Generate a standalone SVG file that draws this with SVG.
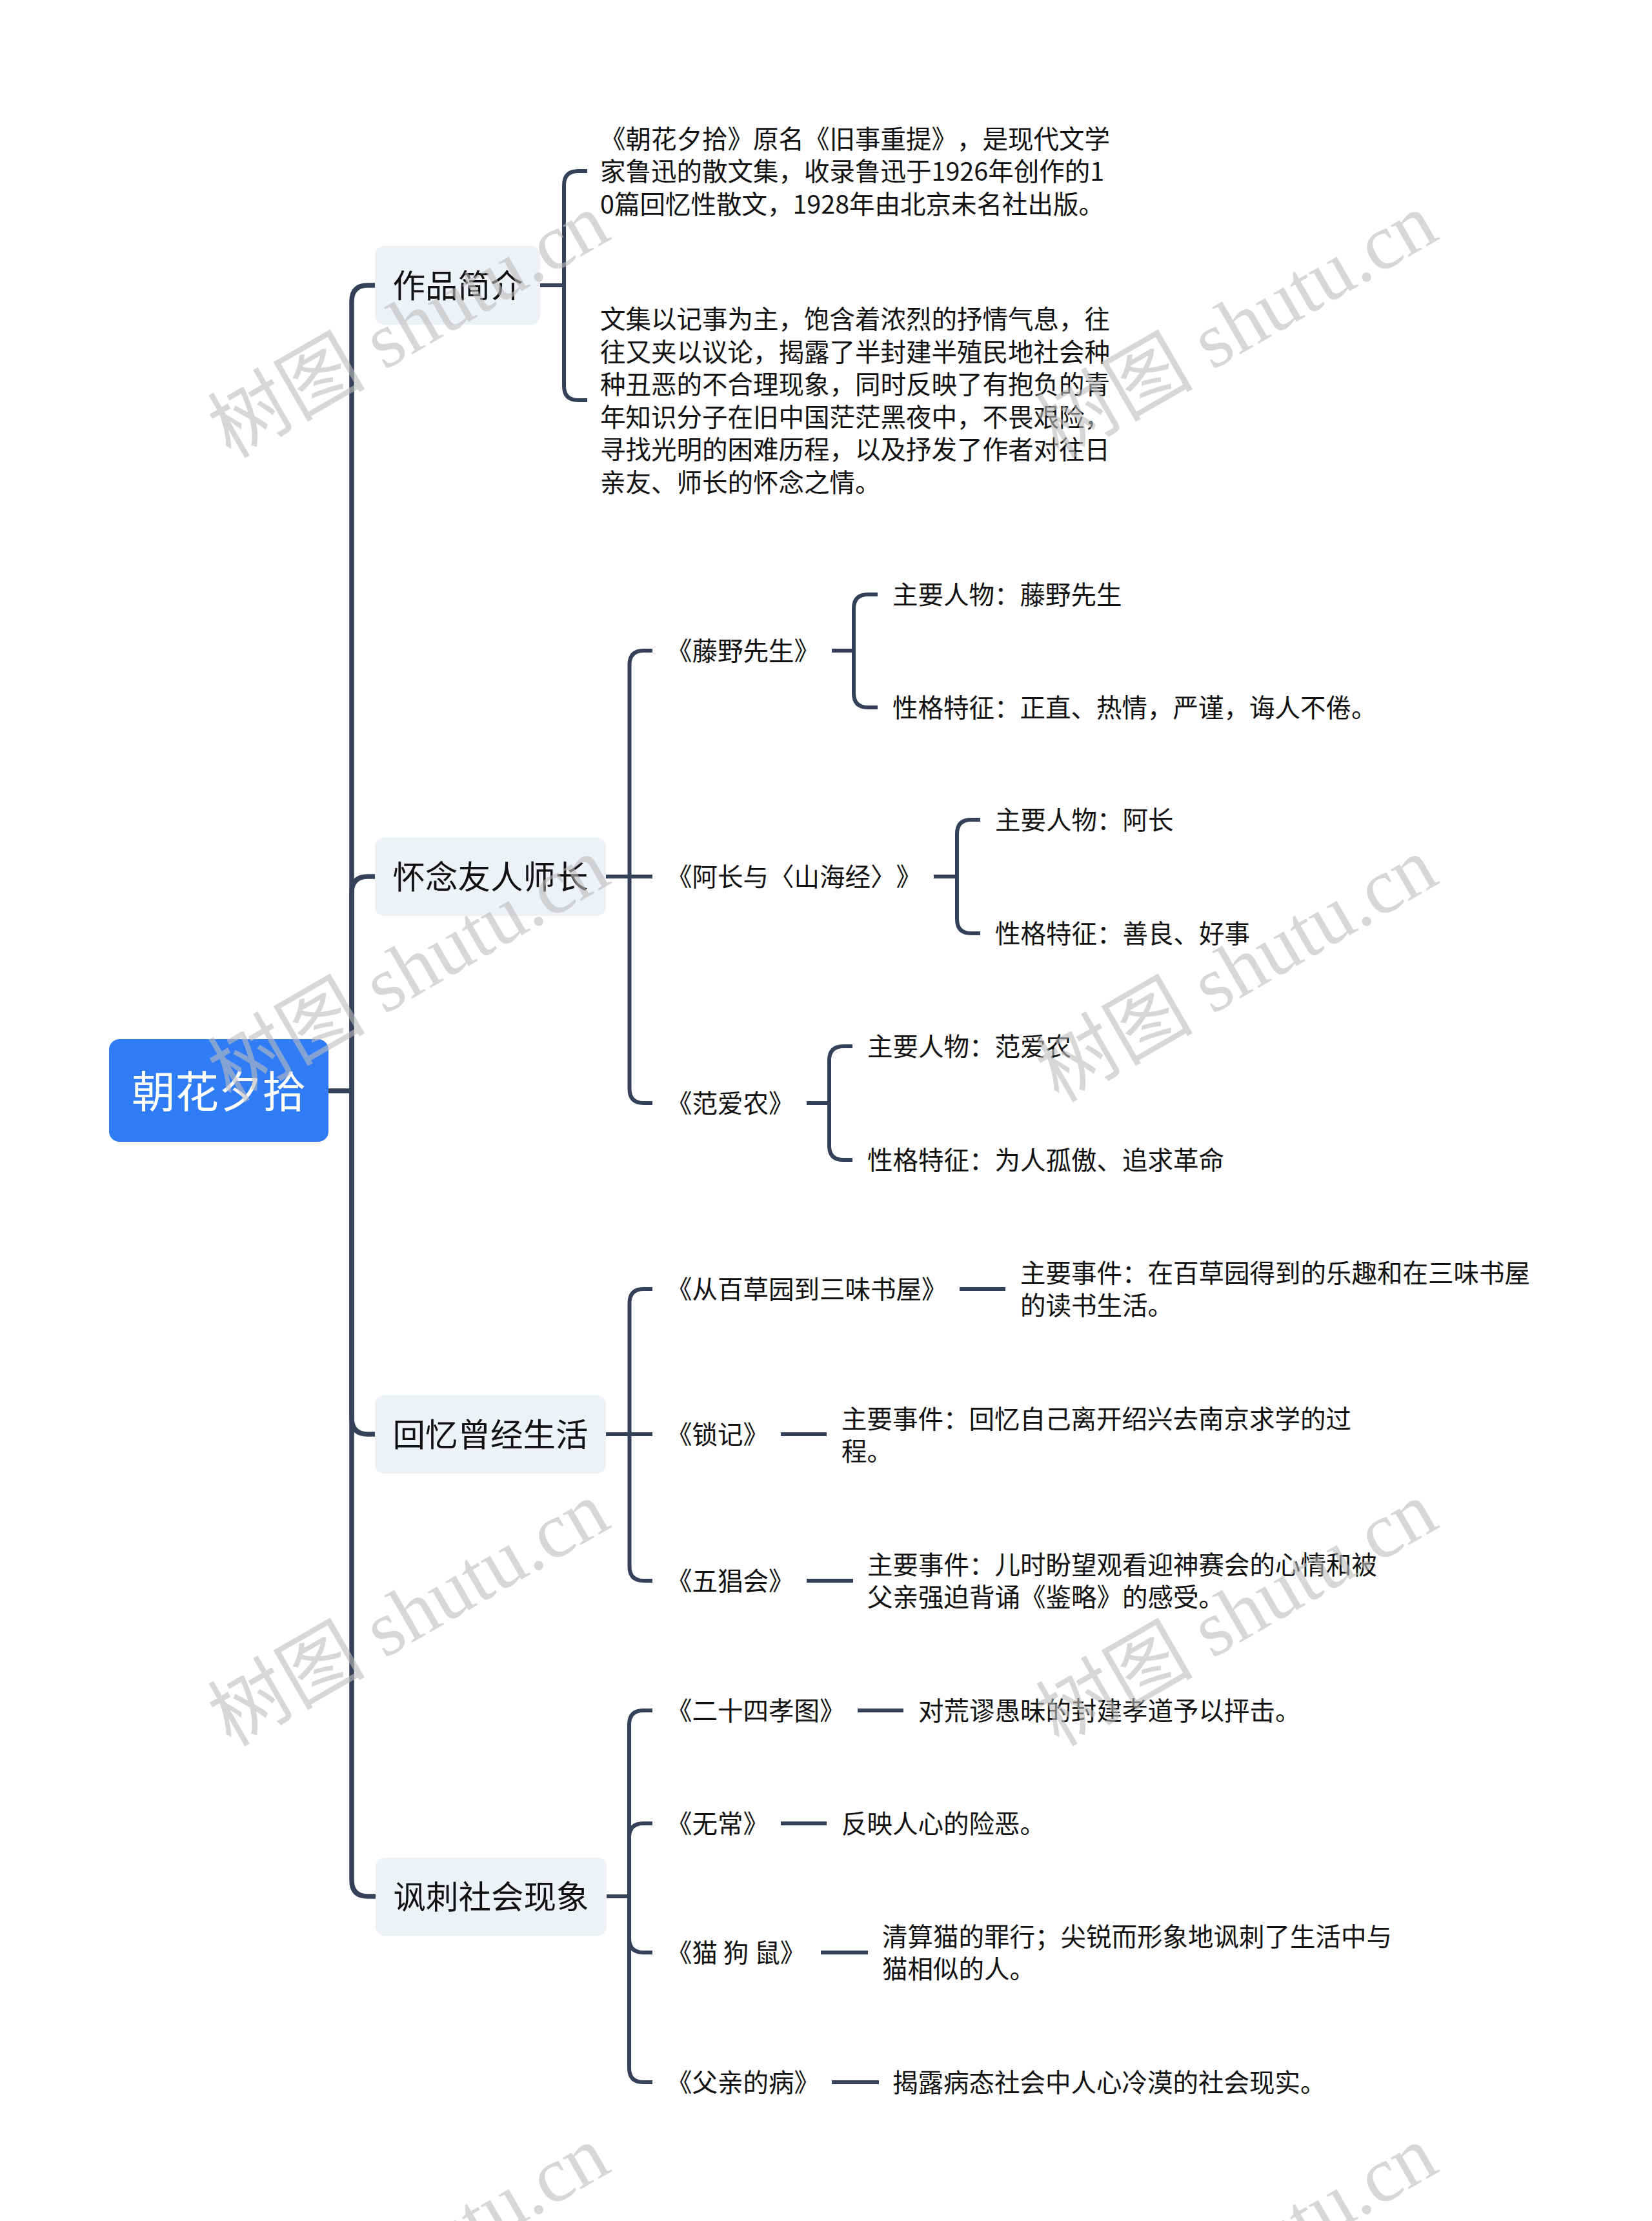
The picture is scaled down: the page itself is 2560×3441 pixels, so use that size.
<svg xmlns="http://www.w3.org/2000/svg" width="2560" height="3441" viewBox="0 0 2560 3441">
<style>
.bg{fill:#ffffff}
.ln{fill:none;stroke:#344259;stroke-width:6;stroke-linecap:butt;stroke-linejoin:round}
.trunk{fill:none;stroke:#344259;stroke-width:7.5;stroke-linecap:butt;stroke-linejoin:round}
.root{fill:#2f7cf6}
.l1{fill:#eef1f5}
.t{font-family:"Noto Sans CJK SC","Noto Sans",sans-serif;fill:#111111;text-spacing-trim:space-all;font-feature-settings:"halt" 0,"chws" 0}
.s{font-size:39.5px}
.m{font-size:50.5px}
.r{font-size:67.5px;fill:#ffffff}
.wm{font-family:"Liberation Serif","Noto Sans CJK SC",serif;font-size:122px;fill:#bdbdbd;opacity:0.6}
</style>
<rect class="bg" x="0" y="0" width="2560" height="3441"/>

<g id="connectors">
  <path class="trunk" d="M509,1690 H545"/>
  <path class="trunk" d="M545,1690 V467 Q545,442 570,442 H583"/>
  <path class="trunk" d="M545,1690 V1383 Q545,1358 570,1358 H583"/>
  <path class="trunk" d="M545,1690 V2197 Q545,2222 570,2222 H583"/>
  <path class="trunk" d="M545,1690 V2913 Q545,2938 570,2938 H583"/>
  <path class="ln" d="M837,442 H874"/>
  <path class="ln" d="M874,442 V287 Q874,265 896,265 H910"/>
  <path class="ln" d="M874,442 V598 Q874,620 896,620 H910"/>
  <path class="ln" d="M939,1358 H1011"/>
  <path class="ln" d="M975.5,1358 V1030 Q975.5,1008 997.5,1008 H1011"/>
  <path class="ln" d="M975.5,1358 V1687 Q975.5,1709 997.5,1709 H1011"/>
  <path class="ln" d="M1289,1008 H1323"/>
  <path class="ln" d="M1323,1008 V943 Q1323,921 1345,921 H1360"/>
  <path class="ln" d="M1323,1008 V1074 Q1323,1096 1345,1096 H1360"/>
  <path class="ln" d="M1447,1358 H1483"/>
  <path class="ln" d="M1483,1358 V1292 Q1483,1270 1505,1270 H1519"/>
  <path class="ln" d="M1483,1358 V1424 Q1483,1446 1505,1446 H1519"/>
  <path class="ln" d="M1250,1709 H1285"/>
  <path class="ln" d="M1285,1709 V1643 Q1285,1621 1307,1621 H1321"/>
  <path class="ln" d="M1285,1709 V1775 Q1285,1797 1307,1797 H1321"/>
  <path class="ln" d="M939,2222 H1011"/>
  <path class="ln" d="M975.5,2222 V2019 Q975.5,1997 997.5,1997 H1011"/>
  <path class="ln" d="M975.5,2222 V2427 Q975.5,2449 997.5,2449 H1011"/>
  <path class="ln" d="M1487,1997 H1558"/>
  <path class="ln" d="M1210,2222 H1281"/>
  <path class="ln" d="M1250,2449 H1322"/>
  <path class="ln" d="M940,2938 H975"/>
  <path class="ln" d="M975,2938 V2672 Q975,2650 997,2650 H1011"/>
  <path class="ln" d="M975,2938 V2847 Q975,2825 997,2825 H1011"/>
  <path class="ln" d="M975,2938 V3003 Q975,3025 997,3025 H1011"/>
  <path class="ln" d="M975,2938 V3204 Q975,3226 997,3226 H1011"/>
  <path class="ln" d="M1329,2650 H1400"/>
  <path class="ln" d="M1210,2825 H1281"/>
  <path class="ln" d="M1272,3025 H1345"/>
  <path class="ln" d="M1289,3226 H1362"/>
</g>

<g id="root">
  <rect class="root" x="169" y="1610" width="340" height="159" rx="16"/>
  <text class="t r" x="339" y="1715.5" text-anchor="middle">朝花夕拾</text>
</g>

<g id="n-intro">
  <rect class="l1" x="581" y="381" width="256" height="122" rx="14"/>
  <text class="t m" x="608.5" y="461">作品简介</text>
</g>
<g id="n-intro-1">
  <text class="t s" x="930" y="229.5">《朝花夕拾》原名《旧事重提》，是现代文学</text>
  <text class="t s" x="930" y="280">家鲁迅的散文集，收录鲁迅于1926年创作的1</text>
  <text class="t s" x="930" y="330.5">0篇回忆性散文，1928年由北京未名社出版。</text>
</g>
<g id="n-intro-2">
  <text class="t s" x="930" y="509">文集以记事为主，饱含着浓烈的抒情气息，往</text>
  <text class="t s" x="930" y="559.5">往又夹以议论，揭露了半封建半殖民地社会种</text>
  <text class="t s" x="930" y="610">种丑恶的不合理现象，同时反映了有抱负的青</text>
  <text class="t s" x="930" y="660.5">年知识分子在旧中国茫茫黑夜中，不畏艰险，</text>
  <text class="t s" x="930" y="711">寻找光明的困难历程，以及抒发了作者对往日</text>
  <text class="t s" x="930" y="761.5">亲友、师长的怀念之情。</text>
</g>

<g id="n-miss">
  <rect class="l1" x="581" y="1298" width="358" height="121" rx="14"/>
  <text class="t m" x="608.5" y="1377">怀念友人师长</text>
</g>
<g id="n-teng"><text class="t s" x="1033" y="1023">《藤野先生》</text></g>
<g id="n-teng-1"><text class="t s" x="1383" y="936">主要人物：藤野先生</text></g>
<g id="n-teng-2"><text class="t s" x="1383" y="1111">性格特征：正直、热情，严谨，诲人不倦。</text></g>
<g id="n-achang"><text class="t s" x="1033" y="1373">《阿长与〈山海经〉》</text></g>
<g id="n-achang-1"><text class="t s" x="1542" y="1285">主要人物：阿长</text></g>
<g id="n-achang-2"><text class="t s" x="1542" y="1461">性格特征：善良、好事</text></g>
<g id="n-fan"><text class="t s" x="1033" y="1724">《范爱农》</text></g>
<g id="n-fan-1"><text class="t s" x="1344" y="1636">主要人物：范爱农</text></g>
<g id="n-fan-2"><text class="t s" x="1344" y="1812">性格特征：为人孤傲、追求革命</text></g>

<g id="n-memory">
  <rect class="l1" x="581" y="2162" width="358" height="121" rx="14"/>
  <text class="t m" x="608.5" y="2241">回忆曾经生活</text>
</g>
<g id="n-baicao"><text class="t s" x="1033" y="2012">《从百草园到三味书屋》</text></g>
<g id="n-baicao-1">
  <text class="t s" x="1581" y="1987">主要事件：在百草园得到的乐趣和在三味书屋</text>
  <text class="t s" x="1581" y="2037">的读书生活。</text>
</g>
<g id="n-suoji"><text class="t s" x="1033" y="2237">《锁记》</text></g>
<g id="n-suoji-1">
  <text class="t s" x="1304" y="2213">主要事件：回忆自己离开绍兴去南京求学的过</text>
  <text class="t s" x="1304" y="2263">程。</text>
</g>
<g id="n-wuchang-hui"><text class="t s" x="1033" y="2464">《五猖会》</text></g>
<g id="n-wuchang-hui-1">
  <text class="t s" x="1344" y="2439">主要事件：儿时盼望观看迎神赛会的心情和被</text>
  <text class="t s" x="1344" y="2489">父亲强迫背诵《鉴略》的感受。</text>
</g>

<g id="n-satire">
  <rect class="l1" x="582" y="2878" width="358" height="121" rx="14"/>
  <text class="t m" x="609.5" y="2957">讽刺社会现象</text>
</g>
<g id="n-24xiao"><text class="t s" x="1033" y="2665">《二十四孝图》</text></g>
<g id="n-24xiao-1"><text class="t s" x="1423" y="2665">对荒谬愚昧的封建孝道予以抨击。</text></g>
<g id="n-wuchang"><text class="t s" x="1033" y="2840">《无常》</text></g>
<g id="n-wuchang-1"><text class="t s" x="1304" y="2840">反映人心的险恶。</text></g>
<g id="n-mao"><text class="t s" x="1033" y="3040">《猫 狗 鼠》</text></g>
<g id="n-mao-1">
  <text class="t s" x="1367" y="3015">清算猫的罪行；尖锐而形象地讽刺了生活中与</text>
  <text class="t s" x="1367" y="3065">猫相似的人。</text>
</g>
<g id="n-father"><text class="t s" x="1033" y="3241">《父亲的病》</text></g>
<g id="n-father-1"><text class="t s" x="1383" y="3241">揭露病态社会中人心冷漠的社会现实。</text></g>

<g id="watermark">
  <text class="wm" text-anchor="middle" transform="translate(654,540) rotate(-30)">树图 shutu.cn</text>
  <text class="wm" text-anchor="middle" transform="translate(1937,540) rotate(-30)">树图 shutu.cn</text>
  <text class="wm" text-anchor="middle" transform="translate(654,1538) rotate(-30)">树图 shutu.cn</text>
  <text class="wm" text-anchor="middle" transform="translate(1937,1538) rotate(-30)">树图 shutu.cn</text>
  <text class="wm" text-anchor="middle" transform="translate(654,2536) rotate(-30)">树图 shutu.cn</text>
  <text class="wm" text-anchor="middle" transform="translate(1937,2536) rotate(-30)">树图 shutu.cn</text>
  <text class="wm" text-anchor="middle" transform="translate(654,3534) rotate(-30)">树图 shutu.cn</text>
  <text class="wm" text-anchor="middle" transform="translate(1937,3534) rotate(-30)">树图 shutu.cn</text>
</g>
</svg>
